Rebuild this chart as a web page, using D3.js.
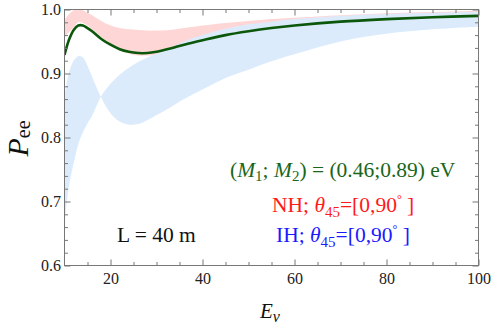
<!DOCTYPE html>
<html>
<head>
<meta charset="utf-8">
<script src="https://cdn.jsdelivr.net/npm/d3@7"></script>
<style>
  body { margin: 0; background: #fff; }
  text { font-family: "Liberation Serif", "DejaVu Serif", serif; }
</style>
</head>
<body>
<div id="wrapper"></div>
<script>
// energies (x grid) shared by all curves
const energy   = [10, 11, 12, 13, 14, 15, 16, 18, 20, 22, 24, 26, 28, 30, 33, 36, 40, 45, 50, 55, 60, 70, 80, 90, 100]
const greenPee = [.929, .953, .968, .975, .975, .971, .966, .954, .945, .938, .934, .932, .932, .934, .939, .945, .952, .960, .966, .971, .975, .981, .985, .988, .990]
const nhUpper  = [.984, .993, .999, 1.0, .999, .995, .991, .982, .975, .971, .969, .968, .967, .967, .968, .971, .975, .979, .982, .985, .987, .991, .994, .996, .998]
const nhLower  = [.957, .965, .972, .980, .979, .975, .969, .957, .946, .937, .931, .928, .928, .929, .934, .940, .946, .953, .959, .964, .968, .975, .980, .984, .987]
const ihEdgeA  = [.865, .902, .920, .927, .925, .912, .895, .862, .838, .825, .820, .821, .827, .835, .847, .860, .875, .893, .906, .919, .930, .950, .962, .969, .973]
const ihEdgeB  = [.663, .725, .760, .790, .808, .822, .834, .865, .884, .898, .909, .918, .925, .931, .940, .950, .960, .970, .977, .981, .985, .990, .993, .995, .9965]

const xMajor = [20, 40, 60, 80, 100]
const yMajor = [0.6, 0.7, 0.8, 0.9, 1.0]

const dimensions = {
  width: 491,
  height: 329,
  margin: { top: 9.5, right: 12.5, bottom: 63.5, left: 64.5 },
}
dimensions.boundedWidth = dimensions.width - dimensions.margin.left - dimensions.margin.right
dimensions.boundedHeight = dimensions.height - dimensions.margin.top - dimensions.margin.bottom

const svg = d3.select("#wrapper").append("svg")
  .attr("width", dimensions.width)
  .attr("height", dimensions.height)

const bounds = svg.append("g")
  .attr("transform", `translate(${dimensions.margin.left},${dimensions.margin.top})`)

const xScale = d3.scaleLinear().domain([10, 100]).range([0, dimensions.boundedWidth])
const yScale = d3.scaleLinear().domain([0.6, 1.0]).range([dimensions.boundedHeight, 0])

svg.append("defs").append("clipPath").attr("id", "plot-clip")
  .append("rect")
  .attr("width", dimensions.boundedWidth)
  .attr("height", dimensions.boundedHeight)

const plot = bounds.append("g").attr("clip-path", "url(#plot-clip)")

const band = (lo, hi) => d3.area()
  .x((d, i) => xScale(energy[i]))
  .y0((d, i) => yScale(lo[i]))
  .y1((d, i) => yScale(hi[i]))
  .curve(d3.curveCatmullRom)(energy)

plot.append("path").attr("d", band(nhLower, nhUpper)).attr("fill", "#ffd6d6")
plot.append("path").attr("d", band(ihEdgeB, ihEdgeA)).attr("fill", "#dcebfc")

const line = d3.line()
  .x((d, i) => xScale(energy[i]))
  .y(d => yScale(d))
  .curve(d3.curveCatmullRom)

plot.append("path")
  .attr("d", line(greenPee))
  .attr("fill", "none")
  .attr("stroke", "#0b570b")
  .attr("stroke-width", 2.6)

// frame with inward ticks on all sides
const tickColor = "#777"
const xMinor = d3.range(15, 100, 5).filter(v => v % 20 !== 0)
const yMinor = d3.range(0.62, 1.0, 0.02).filter(v => Math.abs(v * 10 - Math.round(v * 10)) > 1e-6)

const styleAxis = g => {
  g.select(".domain").remove()
  g.selectAll("line").attr("stroke", tickColor)
  g.selectAll("text").attr("fill", "#222").style("font-size", "16px")
    .style("font-family", "'Liberation Serif', serif")
}

bounds.append("g").attr("transform", `translate(0,${dimensions.boundedHeight})`)
  .call(d3.axisBottom(xScale).tickValues(xMajor).tickSize(-6).tickPadding(7).tickFormat(d3.format("d")))
  .call(styleAxis)
bounds.append("g").call(d3.axisTop(xScale).tickValues(xMajor).tickSize(-6).tickFormat("")).call(styleAxis)
bounds.append("g").attr("transform", `translate(0,${dimensions.boundedHeight})`)
  .call(d3.axisBottom(xScale).tickValues(xMinor).tickSize(-3.5).tickFormat("")).call(styleAxis)
bounds.append("g").call(d3.axisTop(xScale).tickValues(xMinor).tickSize(-3.5).tickFormat("")).call(styleAxis)

bounds.append("g")
  .call(d3.axisLeft(yScale).tickValues(yMajor).tickSize(-6).tickPadding(3.5).tickFormat(d3.format(".1f")))
  .call(styleAxis)
bounds.append("g").attr("transform", `translate(${dimensions.boundedWidth},0)`)
  .call(d3.axisRight(yScale).tickValues(yMajor).tickSize(-6).tickFormat("")).call(styleAxis)
bounds.append("g").call(d3.axisLeft(yScale).tickValues(yMinor).tickSize(-3.5).tickFormat("")).call(styleAxis)
bounds.append("g").attr("transform", `translate(${dimensions.boundedWidth},0)`)
  .call(d3.axisRight(yScale).tickValues(yMinor).tickSize(-3.5).tickFormat("")).call(styleAxis)

bounds.append("rect")
  .attr("width", dimensions.boundedWidth)
  .attr("height", dimensions.boundedHeight)
  .attr("fill", "none")
  .attr("stroke", tickColor)
  .attr("stroke-width", 1)

// axis labels
const yLabel = svg.append("text")
  .attr("transform", `translate(28,138.5) rotate(-90)`)
  .attr("text-anchor", "middle")
  .attr("fill", "#111")
  .style("font-size", "30px")
yLabel.append("tspan").style("font-style", "italic").text("P")
yLabel.append("tspan").attr("dy", 2).style("font-size", "20px").text("ee")

const xLabel = svg.append("text")
  .attr("x", 260)
  .attr("y", 318)
  .attr("fill", "#111")
  .style("font-size", "21px")
xLabel.append("tspan").style("font-style", "italic").text("E")
xLabel.append("tspan").attr("dy", 3.5).style("font-size", "16px").style("font-style", "italic").text("ν")

// annotations
const fs = "21.5px", subFs = "15px"
const massText = svg.append("text").attr("x", 230).attr("y", 177).attr("fill", "#1a661a").style("font-size", fs)
massText.append("tspan").text("(")
massText.append("tspan").style("font-style", "italic").text("M")
massText.append("tspan").attr("dy", 4).style("font-size", subFs).text("1")
massText.append("tspan").attr("dy", -4).text("; ")
massText.append("tspan").style("font-style", "italic").text("M")
massText.append("tspan").attr("dy", 4).style("font-size", subFs).text("2")
massText.append("tspan").attr("dy", -4).text(") = (0.46;0.89) eV")

const thetaText = (y, x, color, prefix) => {
  const t = svg.append("text").attr("x", x).attr("y", y).attr("fill", color).style("font-size", fs)
  t.append("tspan").text(prefix + "; ")
  t.append("tspan").style("font-style", "italic").text("θ")
  t.append("tspan").attr("dy", 5).style("font-size", subFs).text("45")
  t.append("tspan").attr("dy", -5).text("=[0,90")
  t.append("tspan").attr("dy", -9).style("font-size", "12px").text("°")
  t.append("tspan").attr("dy", 9).text(" ]")
}
thetaText(212, 272, "#ff1a1a", "NH")
thetaText(242, 276, "#1a1aff", "IH")

svg.append("text").attr("x", 117).attr("y", 242).attr("fill", "#111").style("font-size", fs).text("L = 40 m")
</script>
</body>
</html>
